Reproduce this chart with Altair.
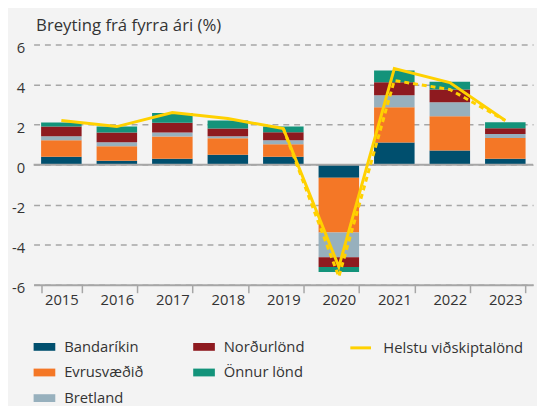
import altair as alt
import pandas as pd

years = ["2015", "2016", "2017", "2018", "2019", "2020", "2021", "2022", "2023"]
bandarikin = [0.4, 0.2, 0.3, 0.5, 0.4, -0.65, 1.1, 0.7, 0.3]
evrusvaedid = [0.82, 0.72, 1.1, 0.82, 0.62, -2.74, 1.77, 1.72, 1.03]
bretland = [0.2, 0.2, 0.2, 0.1, 0.2, -1.23, 0.6, 0.69, 0.2]
nordurlond = [0.49, 0.49, 0.49, 0.39, 0.4, -0.49, 0.64, 0.64, 0.29]
onnur = [0.2, 0.29, 0.49, 0.39, 0.29, -0.25, 0.59, 0.39, 0.3]
helstu = [2.2, 1.9, 2.6, 2.3, 1.8, -5.1, 4.8, 4.1, 2.2]
dashed_years = ["2019", "2020", "2021", "2022", "2023"]
dashed_vals = [1.8, -5.6, 4.2, 3.75, 2.2]

series_names = ["Bandaríkin", "Evrusvæðið", "Bretland", "Norðurlönd", "Önnur lönd"]
series_vals = [bandarikin, evrusvaedid, bretland, nordurlond, onnur]
series_colors = ["#004F6E", "#F47726", "#97B0BD", "#8E1A1F", "#13937A"]

rows = []
for i, (name, vals) in enumerate(zip(series_names, series_vals)):
    for y, v in zip(years, vals):
        rows.append({"year": y, "series": name, "value": v, "order": i})
bars_df = pd.DataFrame(rows)
line_df = pd.DataFrame({"year": years, "value": helstu, "name": "Helstu viðskiptalönd"})
dash_df = pd.DataFrame({"year": dashed_years, "value": dashed_vals})
zero_df = pd.DataFrame({"y": [0]})

FONT = "Open Sans"
TXT = "#333333"
GRAY = "#A6A6A6"

x_enc = alt.X("year:N", sort=years,
              scale=alt.Scale(paddingInner=0.27, paddingOuter=0.135),
              axis=alt.Axis(title=None, labelAngle=0, labelFontSize=15, labelColor=TXT,
                            labelFont=FONT, domainColor=GRAY, domainWidth=2,
                            tickColor=GRAY, tickWidth=1.5, tickSize=8, tickBand="extent",
                            labelPadding=0, grid=False))

y_scale = alt.Scale(domain=[-6, 6], nice=False)
y_axis = alt.Axis(title="Breyting frá fyrra ári (%)", titleAngle=0, titleAlign="left",
                  titleBaseline="alphabetic", titleX=2, titleY=-14, titleFont=FONT,
                  titleFontSize=17, titleFontWeight="normal", titleColor=TXT,
                  values=[-6, -4, -2, 0, 2, 4, 6], labelExpr="'' + datum.value",
                  labelFontSize=15, labelFont=FONT, labelColor=TXT, labelPadding=9,
                  labelOffset=3,
                  domain=False, ticks=False, grid=True, gridColor=GRAY,
                  gridDash=[6, 5], gridWidth=1.5)

bars = alt.Chart(bars_df).mark_bar().encode(
    x=x_enc,
    y=alt.Y("sum(value):Q", scale=y_scale, axis=y_axis, stack="zero"),
    color=alt.Color("series:N",
                    scale=alt.Scale(domain=series_names, range=series_colors),
                    legend=alt.Legend(title=None, orient="none", legendX=0, legendY=296,
                                      columns=2, symbolType="M-1,-0.36L1,-0.36L1,0.36L-1,0.36Z",
                                      symbolSize=484, symbolStrokeWidth=0, labelFontSize=15,
                                      labelFont=FONT, labelColor=TXT, labelOffset=9,
                                      rowPadding=7, columnPadding=50)),
    order=alt.Order("order:Q"),
)

zero = alt.Chart(zero_df).mark_rule(color=GRAY, strokeWidth=2).encode(
    y=alt.Y("y:Q", scale=y_scale))

dash = alt.Chart(dash_df).mark_line(color="#FFD100", strokeWidth=3, strokeDash=[5, 4]).encode(
    x=alt.X("year:N", sort=years), y=alt.Y("value:Q", scale=y_scale))

line = alt.Chart(line_df).mark_line(strokeWidth=3).encode(
    x=alt.X("year:N", sort=years),
    y=alt.Y("value:Q", scale=y_scale),
    color=alt.Color("name:N", scale=alt.Scale(domain=["Helstu viðskiptalönd"], range=["#FFD100"]),
                    legend=alt.Legend(title=None, orient="none", legendX=320, legendY=296,
                                      symbolType="stroke", symbolSize=441, symbolStrokeWidth=3,
                                      labelFontSize=15, labelFont=FONT, labelColor=TXT,
                                      labelOffset=11)),
)

chart = alt.layer(bars, zero, dash, line).resolve_scale(color="independent").properties(
    width=507, height=244,
    autosize=alt.AutoSizeParams(type="none"),
    padding={"left": 26, "top": 34, "right": 4, "bottom": 120},
    background="#F3F3F3",
).configure_view(stroke=None)

chart.save("out.html", embed_options={"renderer": "svg", "actions": False})
